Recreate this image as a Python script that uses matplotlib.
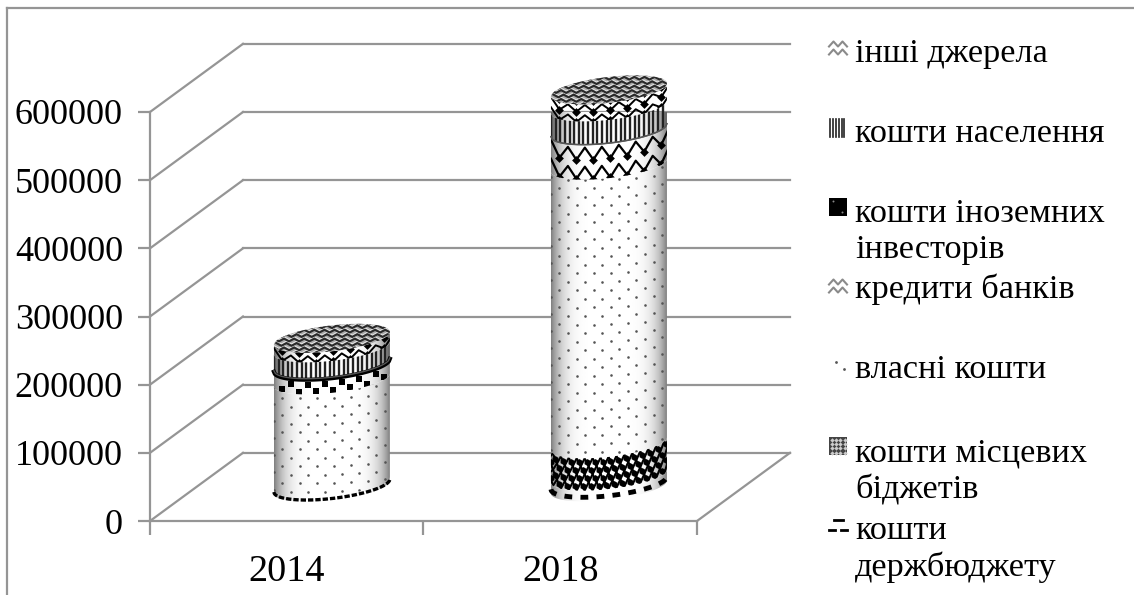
import numpy as np
import matplotlib
matplotlib.use("Agg")
import matplotlib.pyplot as plt
from matplotlib.patches import Polygon, Rectangle

plt.rcParams['font.family'] = ['Liberation Serif', 'DejaVu Serif']

# Chart data
years = ['2014', '2018']
y_ticks = [0, 100000, 200000, 300000, 400000, 500000, 600000]
legend_labels = ['інші джерела', 'кошти населення', 'кошти іноземних\nінвесторів',
                 'кредити банків', 'власні кошти', 'кошти місцевих\nбіджетів',
                 'кошти\nдержбюджету']

# Layers from the bottom of the cylinder up
state_budget = [4000, 16000]
local_budget = [1000, 47000]
own_funds = [152000, 409000]
bank_credits = [20000, 51000]
foreign_investors = [3000, 500]
population = [24000, 34000]
other_sources = [14000, 25000]

W, H = 1134, 595
GRID = '#959595'
DEPTH_X = 0.34      # depth of the box in category units
DEPTH_Y = 100000    # depth of the box in value units
RX = 0.212          # cylinder radius
RY = 19000          # ellipse half height
TILT = 9500         # the ellipses lean upwards to the right

fig = plt.figure(figsize=(W / 100, H / 100), dpi=100, facecolor='white')
ax = fig.add_axes([150 / W, 1 - 521 / H, 547 / W, 409 / H])
ax.set_facecolor('none')


def ellipse(cx, v, t):
    return cx + RX * np.cos(t), v + RY * np.sin(t) + TILT * np.cos(t)


def arc_offset(x, cx):
    # how far the front edge of an ellipse sits from its centre at x
    u = np.clip((x - cx) / RX, -1, 1)
    return -RY * np.sqrt(1 - u ** 2) + TILT * u


def band_patch(cx, low, high):
    t = np.linspace(np.pi, 2 * np.pi, 80)
    x1, y1 = ellipse(cx, low, t)
    x2, y2 = ellipse(cx, high, t[::-1])
    p = Polygon(np.column_stack([np.r_[x1, x2], np.r_[y1, y2]]), closed=True,
                facecolor='none', edgecolor='none', zorder=3)
    ax.add_patch(p)
    p.set_clip_on(False)
    return p


def top_patch(cx, v):
    t = np.linspace(0, 2 * np.pi, 120)
    x, y = ellipse(cx, v, t)
    p = Polygon(np.column_stack([x, y]), closed=True, facecolor='#a8a8a8',
                edgecolor='none', zorder=6)
    ax.add_patch(p)
    p.set_clip_on(False)
    return p


def clipped(artists, patch):
    for a in artists:
        a.set_clip_box(None)
        a.set_clip_path(patch)


def shade_band(cx, patch, lo=0.5):
    # white in the middle, gray towards the cylinder edges
    u = np.linspace(-1, 1, 200)
    g = 1 - (1 - lo) * np.abs(u) ** 5
    im = ax.imshow(g[None, :], cmap='gray', vmin=0, vmax=1, aspect='auto',
                   extent=[cx - RX, cx + RX, -50000, 700000], zorder=2.5)
    clipped([im], patch)


def draw_state(cx, low, high):
    p = band_patch(cx, low, high)
    shade_band(cx, p)
    xs = np.linspace(cx - RX, cx + RX, 300)
    thin = high - low < 8000
    lw = 2.4 if thin else 3.5
    on = (1.6, 0.6) if thin else (1.6, 1.7)
    rise = 2000 if thin else 6000
    ax.plot(xs, low + rise + arc_offset(xs, cx), color='black', lw=lw, ls=(0, on),
            zorder=4, clip_on=False)


def draw_local(cx, low, high):
    p = band_patch(cx, low, high)
    shade_band(cx, p)
    if high - low < 5000:
        return
    step = 0.029
    rows = 4
    arts = []
    for i in range(rows):
        v = low + (i + 0.5) * (high - low) / rows
        xs = cx - RX + step * (np.arange(16) + (i % 2) * 0.5)
        arts.append(ax.scatter(xs, v + arc_offset(xs, cx), s=24, color='black',
                               marker='h', linewidths=0, zorder=4))
    # diagonal lattice between the dots
    for k in range(-6, 24):
        x0 = cx - RX + step * (k + 0.25)
        xl = np.linspace(x0, x0 + step * 2, 10)
        yl = np.linspace(low, high, 10)
        arts += ax.plot(xl, yl + arc_offset(xl, cx), color='black', lw=1.5, zorder=4)
        arts += ax.plot(xl[::-1], yl + arc_offset(xl[::-1], cx), color='black', lw=1.5, zorder=4)
    clipped(arts, p)


def draw_own(cx, low, high):
    p = band_patch(cx, low, high)
    shade_band(cx, p)
    xs, ys = [], []
    for i, v in enumerate(np.arange(low + 2000, high + 12000, 12500)):
        col = cx - RX + 0.0625 * (np.arange(8) + (i % 2) * 0.5)
        xs.extend(col)
        ys.extend(v + 0.3 * arc_offset(col, cx) - 8000)
    clipped([ax.scatter(xs, ys, s=3.5, color='#555555', linewidths=0, zorder=4)], p)


def zigzag(cx, v, amp, lw=1.6):
    step = 0.031
    n = 16
    nodes = cx - RX + step * np.arange(n)
    ups = np.where(np.arange(n) % 2 == 0, amp, -amp)
    line = ax.plot(nodes, v + ups + arc_offset(nodes, cx), color='black', lw=lw, zorder=4)
    low_x = nodes[1::2]
    dots = ax.scatter(low_x, v - amp + arc_offset(low_x, cx), s=20, color='black',
                      marker='D', linewidths=0, zorder=4)
    return line + [dots]


def draw_credits(cx, low, high):
    p = band_patch(cx, low, high)
    shade_band(cx, p)
    arts = []
    if high - low < 30000:
        # a short band only leaves room for the rows of dots
        for i, v in enumerate([low + 4000, low + 14000]):
            xs = cx - RX + 0.031 * (2 * np.arange(8) + 1 + i)
            arts.append(ax.scatter(xs, v + arc_offset(xs, cx), s=17, color='black',
                                   marker='s', linewidths=0, zorder=4))
    else:
        amp = 9000
        for v in np.arange(low + amp + 1000, high + 12000, 28000):
            arts += zigzag(cx, v, amp)
    clipped(arts, p)


def draw_foreign(cx, low, high):
    xs = np.linspace(cx - RX, cx + RX, 120)
    y = (low + high) / 2 + arc_offset(xs, cx)
    if high - low < 1500:
        ax.plot(xs, y, color='#555555', lw=1, zorder=5, clip_on=False)
    else:
        ax.plot(xs, y, color='black', lw=3, zorder=5, clip_on=False)


def draw_population(cx, low, high):
    p = band_patch(cx, low, high)
    shade_band(cx, p, lo=0.35)
    arts = []
    for x in np.arange(cx - RX, cx + RX, 0.017):
        arts.append(ax.vlines(x, low - 30000, high + 5000, color='#222222', lw=1.7, zorder=4))
    clipped(arts, p)
    xs = np.linspace(cx - RX, cx + RX, 80)
    ax.plot(xs, low + arc_offset(xs, cx), color='#555555', lw=1, zorder=5, clip_on=False)


def draw_other(cx, low, high):
    p = band_patch(cx, low, high)
    shade_band(cx, p, lo=0.4)
    arts = []
    amp = 5000
    for v in np.arange(low + 4000, high + 20000, 15000):
        arts += zigzag(cx, v, amp, lw=1.4)
    clipped(arts, p)

    # lid of the cylinder, woven with rows of gray and black chevrons
    lid = top_patch(cx, high)
    arts = []
    row = 0
    for v in np.arange(high - RY - TILT, high + RY + TILT, 6500):
        nodes = cx - RX + 0.0185 * np.arange(25) + (row % 2) * 0.009
        ups = np.where(np.arange(25) % 2 == 0, 2000, -2000)
        arts += ax.plot(nodes, v + ups, color='#2a2a2a', lw=1.5, zorder=6.2)
        arts += ax.plot(nodes, v + ups + 2800, color='#e4e4e4', lw=0.8, zorder=6.1)
        row += 1
    clipped(arts, lid)


# Walls and floor of the box
for v in y_ticks:
    ax.plot([DEPTH_X, 2 + DEPTH_X], [v + DEPTH_Y, v + DEPTH_Y], color=GRID, lw=1.6,
            clip_on=False, zorder=1)
    ax.plot([0, DEPTH_X], [v, v + DEPTH_Y], color=GRID, lw=1.6, clip_on=False, zorder=1)
ax.plot([2, 2 + DEPTH_X], [0, DEPTH_Y], color=GRID, lw=1.6, clip_on=False, zorder=1)

# Stacked cylinders stand in the middle of the floor
for i in range(len(years)):
    cx = 0.665 + i * 1.013
    v = DEPTH_Y / 2
    for layer, draw in [(state_budget, draw_state), (local_budget, draw_local),
                        (own_funds, draw_own), (bank_credits, draw_credits),
                        (foreign_investors, draw_foreign), (population, draw_population),
                        (other_sources, draw_other)]:
        draw(cx, v, v + layer[i])
        v += layer[i]

ax.set_xlim(0, 2)
ax.set_ylim(0, 600000)
for s in ('top', 'right'):
    ax.spines[s].set_visible(False)
for s in ('left', 'bottom'):
    ax.spines[s].set_color(GRID)
    ax.spines[s].set_linewidth(1.6)
ax.set_yticks(y_ticks)
ax.set_yticklabels([str(v) for v in y_ticks], fontsize=26)
ax.tick_params(axis='y', length=8.5, width=1.6, color=GRID, pad=11)
ax.set_xticks([0, 1, 2])
ax.set_xticklabels([])
ax.tick_params(axis='x', which='major', length=10, width=1.6, color=GRID)
ax.set_xticks([0.5, 1.5], minor=True)
ax.set_xticklabels(years, minor=True, fontsize=27.5)
ax.tick_params(axis='x', which='minor', length=0, pad=24)

# Overlay in pixel units for the legend and the outer frame
ov = fig.add_axes([0, 0, 1, 1], facecolor='none')
ov.set_xlim(0, W)
ov.set_ylim(H, 0)
ov.axis('off')
ov.plot([7, 7], [H, 8], color=GRID, lw=1.6)
ov.plot([7, W], [8, 8], color=GRID, lw=1.6)

legend_y = [54, 134, 232, 289, 370, 471.5, 549]
swatch_y = [49, 128, 207, 287, 367, 446, 526]
for label, y in zip(legend_labels, legend_y):
    ov.text(855, y, label, fontsize=24.7, va='center', ha='left', linespacing=1.23)

SX = 829
SIZE = 18


def swatch_clip(y):
    r = Rectangle((SX, y - SIZE / 2), SIZE, SIZE, transform=ov.transData,
                  facecolor='none', edgecolor='none')
    ov.add_patch(r)
    return r


def swatch_zig(y, color):
    r = swatch_clip(y)
    xs = np.linspace(SX, SX + SIZE, 5)
    for off in (-5, 3):
        ups = np.where(np.arange(5) % 2 == 0, 2.5, -2.5)
        ov.plot(xs, y + off + ups, color=color, lw=1.5, clip_path=r)


swatch_zig(swatch_y[0], '#8a8a8a')
for x in np.arange(SX + 1, SX + SIZE, 2.9):
    ov.plot([x, x], [swatch_y[1] - 9, swatch_y[1] + 9], color='#222222', lw=1.2)
ov.add_patch(Rectangle((SX, swatch_y[2] - 9), SIZE, SIZE, facecolor='black', edgecolor='none'))
ov.scatter([SX + 4, SX + 13], [swatch_y[2] - 6, swatch_y[2] + 5], s=2, color='#888888', linewidths=0)
swatch_zig(swatch_y[3], '#8a8a8a')
ov.scatter([SX + 7, SX + 15], [swatch_y[4] - 5, swatch_y[4] + 2], s=4, color='#555555', linewidths=0)
ov.add_patch(Rectangle((SX, swatch_y[5] - 9), SIZE, SIZE, facecolor='#444444', edgecolor='none'))
for i in range(4):
    for j in range(4):
        ov.scatter(SX + 2.5 + i * 4.4, swatch_y[5] - 6.5 + j * 4.4, s=5, color='#cccccc',
                   marker='D', linewidths=0)
ov.plot([SX + 5, SX + 14], [swatch_y[6] - 6, swatch_y[6] - 6], color='black', lw=2)
ov.plot([SX, SX + 6], [swatch_y[6] + 4, swatch_y[6] + 4], color='black', lw=2)
ov.plot([SX + 12, SX + 18], [swatch_y[6] + 4, swatch_y[6] + 4], color='black', lw=2)

fig.savefig('out.png', dpi=100, facecolor='white')
